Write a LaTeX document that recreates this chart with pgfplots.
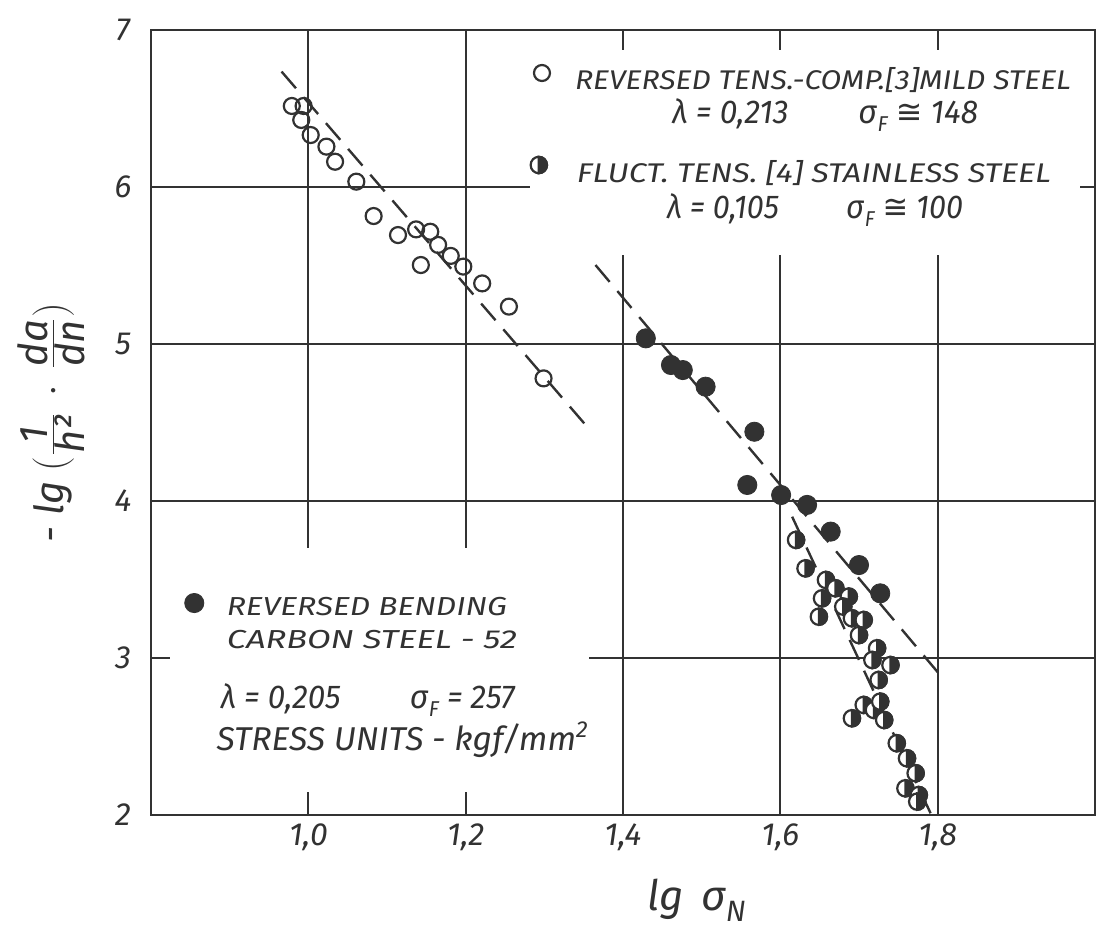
\documentclass[border=0pt]{standalone}
\usepackage{pgfplots}
\pgfplotsset{compat=1.18}
\usepackage{fontspec}
\usepackage{graphicx}
\setmainfont{Fira Sans}
\newfontfamily\dv{DejaVu Sans}
\usetikzlibrary{plotmarks}
\definecolor{ink}{RGB}{50,50,50}
\pgfdeclareplotmark{rhalf}{%
  \pgfpathcircle{\pgfpointorigin}{\pgfplotmarksize}%
  \pgfsetfillcolor{white}\pgfusepathqfillstroke
  \pgfpathmoveto{\pgfqpoint{0pt}{\pgfplotmarksize}}%
  \pgfpatharc{90}{-90}{\pgfplotmarksize}%
  \pgfpathclose
  \pgfsetfillcolor{ink}\pgfusepathqfillstroke
}
\newcommand{\sF}{σ\kern0.03em\raisebox{-0.45ex}{\scalebox{0.65}{F}}}
\newcommand{\fit}[2]{\resizebox{#1}{\height}{#2}}
\begin{document}
\begin{tikzpicture}
\begin{axis}[
  scale only axis, width=472pt, height=392.5pt,
  xmin=0.8, xmax=2.0, ymin=2, ymax=7,
  axis line style={line width=1.4pt, ink},
  xtick={1.0,1.2,1.4,1.6,1.8},
  xticklabels={{1,0},{1,2},{1,4},{1,6},{1,8}},
  ytick={2,3,4,5,6,7},
  yticklabels={2,3,4,5,6,7},
  major tick length=0pt,
  grid=major,
  major grid style={line width=1pt, ink},
  xticklabel style={font=\fontsize{16}{18}\selectfont\itshape, text=ink, anchor=center, yshift=-11pt},
  yticklabel style={font=\fontsize{16}{18}\selectfont\itshape, text=ink, anchor=center, xshift=-14pt},
  xlabel={lg \,σ\raisebox{-0.5ex}{\scalebox{0.7}{N}}},
  xlabel style={at={(rel axis cs:0.578,0)}, anchor=center, yshift=-42.5pt, font=\fontsize{21}{24}\selectfont\itshape, text=ink},
  ylabel={- lg $\Bigl(\frac{\mbox{\itshape 1}}{\mbox{\itshape h²}}\,\cdot\,\frac{\mbox{\itshape da}}{\mbox{\itshape dn}}\Bigr)$},
  ylabel style={at={([xshift=-50pt]rel axis cs:0,0.5)}, anchor=center, font=\fontsize{20}{22}\selectfont\itshape, text=ink},
  clip=false,
]
\coordinate (bl) at (rel axis cs:0,0);
\coordinate (tr) at (rel axis cs:1,1);
% white areas where grid is interrupted by the lettering
\fill[white] (axis cs:1.2815,6.873) rectangle (axis cs:1.981,5.567);
\fill[white] (axis cs:0.8238,3.701) rectangle (axis cs:1.3563,2.146);

% fitted lines
\addplot[ink, line width=1.2pt, dash pattern=on 11pt off 6pt] coordinates {(0.966,6.735) (1.358,4.452)};
\addplot[ink, line width=1.2pt, dash pattern=on 11pt off 6pt] coordinates {(1.365,5.503) (1.803,2.892)};
\addplot[ink, line width=1.2pt, dash pattern=on 11pt off 6pt] coordinates {(1.615,3.900) (1.791,2.011)};

% reversed tens.-comp., mild steel (open)
\addplot[only marks, mark=o, mark size=4pt, mark options={line width=1.1pt, draw=ink}] coordinates {
(0.979,6.516) (0.994,6.516) (0.991,6.427) (1.003,6.331) (1.023,6.257) (1.034,6.161)
(1.061,6.034) (1.083,5.815) (1.114,5.694) (1.137,5.730) (1.155,5.715) (1.165,5.631)
(1.181,5.561) (1.197,5.493) (1.143,5.503) (1.221,5.386) (1.255,5.238) (1.299,4.781)};

% reversed bending, carbon steel (filled)
\addplot[only marks, mark=*, mark size=4.8pt, mark options={draw=ink, fill=ink}] coordinates {
(1.429,5.036) (1.461,4.866) (1.476,4.834) (1.505,4.728) (1.567,4.441) (1.558,4.102)
(1.601,4.038) (1.634,3.975) (1.664,3.805) (1.700,3.592) (1.727,3.412)};

% fluct. tens., stainless steel (half filled)
\addplot[only marks, mark=rhalf, mark size=4.1pt, mark options={line width=1.1pt, draw=ink}] coordinates {
(1.620,3.752) (1.632,3.571) (1.658,3.497) (1.670,3.444) (1.687,3.391) (1.653,3.380)
(1.649,3.263) (1.680,3.327) (1.691,3.253) (1.706,3.242) (1.700,3.146) (1.723,3.062)
(1.717,2.987) (1.740,2.955) (1.725,2.860) (1.706,2.701) (1.691,2.616) (1.719,2.669)
(1.727,2.722) (1.732,2.605) (1.748,2.457) (1.761,2.361) (1.772,2.266) (1.759,2.170)
(1.776,2.127) (1.774,2.085)};

% legend markers
\addplot[only marks, mark=o, mark size=4pt, mark options={line width=1.1pt, draw=ink}] coordinates {(1.297,6.726)};
\addplot[only marks, mark=rhalf, mark size=4.1pt, mark options={line width=1.1pt, draw=ink}] coordinates {(1.293,6.140)};
\addplot[only marks, mark=*, mark size=4.8pt, mark options={draw=ink, fill=ink}] coordinates {(0.855,3.350)};

% lettering
\node[anchor=west, inner sep=0pt, text=ink, font=\fontsize{13.5}{15}\selectfont\itshape] at (axis cs:1.3385,6.682) {\fit{248pt}{REVERSED TENS.-COMP.[3]MILD STEEL}};
\node[anchor=center, inner sep=0pt, text=ink, font=\fontsize{16.5}{18}\selectfont\itshape] at (axis cs:1.657,6.459) {\fit{153pt}{λ = 0,213\hspace{2.2em}\sF\ {\dv ≅} 148}};
\node[anchor=west, inner sep=0pt, text=ink, font=\fontsize{13.5}{15}\selectfont\itshape] at (axis cs:1.341,6.089) {\fit{237pt}{FLUCT. TENS. [4] STAINLESS STEEL}};
\node[anchor=center, inner sep=0pt, text=ink, font=\fontsize{16.5}{18}\selectfont\itshape] at (axis cs:1.644,5.854) {\fit{148pt}{λ = 0,105\hspace{2.2em}\sF\ {\dv ≅} 100}};

\node[anchor=west, inner sep=0pt, text=ink, font=\fontsize{13}{15}\selectfont\itshape] at (axis cs:0.896,3.325) {\fit{140pt}{REVERSED BENDING}};
\node[anchor=west, inner sep=0pt, text=ink, font=\fontsize{13}{15}\selectfont\itshape] at (axis cs:0.896,3.115) {\fit{145pt}{CARBON STEEL - 52}};
\node[anchor=west, inner sep=0pt, text=ink, font=\fontsize{16.5}{18}\selectfont\itshape] at (axis cs:0.888,2.732) {\fit{147pt}{λ = 0,205\hspace{2.2em}\sF\ = 257}};
\node[anchor=west, inner sep=0pt, text=ink, font=\fontsize{16.5}{18}\selectfont\itshape] at (axis cs:0.883,2.478) {\fit{186pt}{STRESS UNITS - kgf/mm\textsuperscript{2}}};
\end{axis}
\pgfresetboundingbox
\useasboundingbox ([xshift=-75.5pt,yshift=-57pt]bl) rectangle ([xshift=0.5pt,yshift=15pt]tr);
\end{tikzpicture}
\end{document}
